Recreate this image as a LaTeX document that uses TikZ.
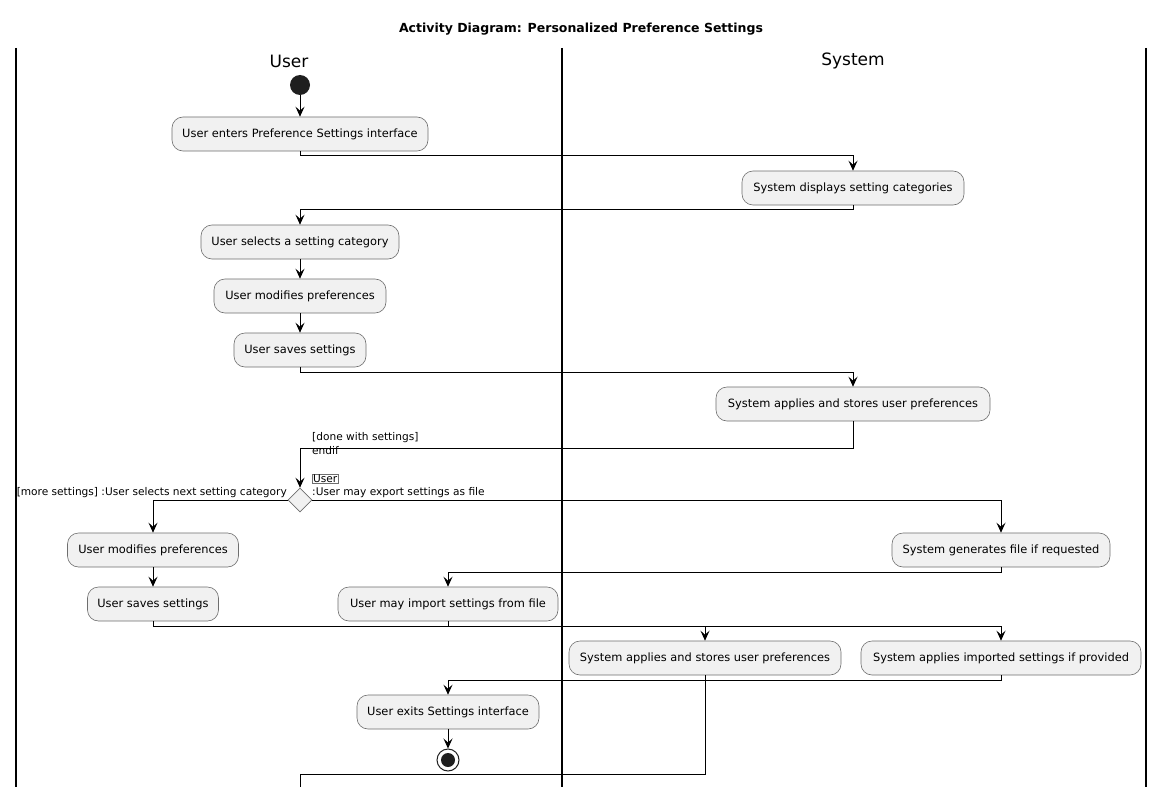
\documentclass[tikz,border=0pt]{standalone}
\usepackage{fontspec}
\setmainfont{DejaVu Sans}
\usetikzlibrary{arrows.meta,shapes.geometric}
\definecolor{actfill}{HTML}{F1F1F1}
\definecolor{actdraw}{HTML}{6E6E6E}
\begin{document}
\begin{tikzpicture}[x=1pt,y=-1pt,
  act/.style={draw=actdraw, fill=actfill, rounded corners=11pt, minimum height=34pt,
    inner sep=0pt, line width=0.6pt, font=\fontsize{11.4}{13}\selectfont},
  flow/.style={-{Stealth[length=10pt,width=9pt,inset=4pt]}, line width=0.8pt},
  plain/.style={line width=0.8pt},
  lbl/.style={font=\fontsize{10.6}{12}\selectfont, inner sep=0pt},
  lane/.style={line width=1.1pt}]
\useasboundingbox (0,0) rectangle (1164,797);
\fill[white] (0,0) rectangle (1164,797);

\node[font=\bfseries\fontsize{12.5}{14}\selectfont] (title) at (581,29) {Activity Diagram: Personalized Preference Settings};

\draw[lane] (16,48) -- (16,787);
\draw[lane] (562,48) -- (562,787);
\draw[lane] (1146,48) -- (1146,787);
\node[font=\fontsize{17}{19}\selectfont] (hu) at (289,61) {User};
\node[font=\fontsize{17}{19}\selectfont] (hs) at (853,61) {System};

\node[circle, fill=black!88, minimum size=20pt, inner sep=0pt] (s) at (300,85) {};
\node[act, minimum width=256pt] (b1) at (300,134) {User enters Preference Settings interface};
\node[act, minimum width=222pt] (b2) at (853,188) {System displays setting categories};
\node[act, minimum width=198pt] (b3) at (300,242) {User selects a setting category};
\node[act, minimum width=172pt] (b4) at (300,296) {User modifies preferences};
\node[act, minimum width=132pt] (b5) at (300,350) {User saves settings};
\node[act, minimum width=274pt] (b6) at (853,404) {System applies and stores user preferences};
\node[diamond, draw=actdraw, fill=actfill, minimum width=24pt, minimum height=24pt, inner sep=0pt, line width=0.6pt] (d) at (300,500) {};
\node[act, minimum width=171pt] (b7) at (153,550) {User modifies preferences};
\node[act, minimum width=131pt] (b8) at (153,604) {User saves settings};
\node[act, minimum width=218pt] (b9) at (1001,550) {System generates file if requested};
\node[act, minimum width=220pt] (b10) at (448,604) {User may import settings from file};
\node[act, minimum width=272pt] (b11) at (705,658) {System applies and stores user preferences};
\node[act, minimum width=280pt] (b12) at (1001,658) {System applies imported settings if provided};
\node[act, minimum width=182pt] (b13) at (448,712) {User exits Settings interface};
\node[circle, draw=black!88, line width=1pt, minimum size=22pt, inner sep=0pt, fill=white] (e) at (448,760) {};
\node[circle, fill=black!88, minimum size=14pt, inner sep=0pt] (ein) at (e.center) {};

\node[lbl, anchor=west] (l1) at (312,438) {[done with settings]};
\node[lbl, anchor=west] (l2) at (312,451) {endif};
\node[lbl, anchor=west, draw=actdraw, line width=0.5pt, inner sep=0.8pt] (l3) at (312,479) {User};
\node[lbl, anchor=west] (l4) at (312,493) {:User may export settings as file};
\node[lbl, anchor=east] (l5) at (287,493) {[more settings] :User selects next setting category};

\coordinate (j) at (1001,626);
\coordinate (tail) at (300,787);

\draw[flow] (s) -- (b1);
\draw[flow] (b1.south) -- ++(0,4) -| (b2.north);
\draw[flow] (b2.south) -- ++(0,4) -| (b3.north);
\draw[flow] (b3) -- (b4);
\draw[flow] (b4) -- (b5);
\draw[flow] (b5.south) -- ++(0,5) -| (b6.north);
\draw[flow] (b6.south) -- ++(0,27) -| (d.north);
\draw[flow] (d.west) -| (b7.north);
\draw[flow] (b7) -- (b8);
\draw[flow] (d.east) -| (b9.north);
\draw[flow] (b9.south) -- ++(0,5) -| (b10.north);
\draw[plain] (b8.south) |- (j);
\draw[plain] (b10.south) -- (b10.south |- j);
\draw[flow] (b11.north |- j) -- (b11.north);
\draw[flow] (j) -- (b12.north);
\draw[flow] (b12.south) -- ++(0,5) -| (b13.north);
\draw[flow] (b13) -- (e);
\draw[plain] (b11.south) -- ++(0,99) -| (tail);
\end{tikzpicture}
\end{document}
